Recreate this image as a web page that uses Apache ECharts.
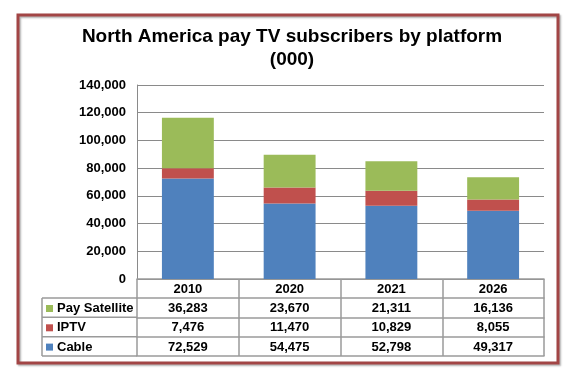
<!DOCTYPE html>
<html>
<head>
<meta charset="utf-8">
<script src="https://cdn.jsdelivr.net/npm/echarts@6/dist/echarts.min.js"></script>
<style>
html,body{margin:0;padding:0;background:#fff;}
#c{width:584px;height:377px;}
</style>
</head>
<body>
<div id="c"></div>
<script>
// ---- data ----
const categories = ['2010', '2020', '2021', '2026'];
const cable = [72529, 54475, 52798, 49317];
const iptv = [7476, 11470, 10829, 8055];
const satellite = [36283, 23670, 21311, 16136];
const seriesNames = ['Pay Satellite', 'IPTV', 'Cable'];
const yMin = 0, yMax = 140000, yInterval = 20000;

// ---- style ----
const FONT = "'Liberation Sans', Arial, sans-serif";
const colors = { 'Cable': '#4F81BD', 'IPTV': '#C0504D', 'Pay Satellite': '#9BBB59' };
const tableLine = '#9a9a9a';
const fmt = v => Number(v).toLocaleString('en-US');

const gridLeft = 137, gridTop = 85, gridRightX = 544, gridBottomY = 279;
const rowOffsets = [19, 38.3, 57.7, 77];

function rowAxis(offset, values) {
  return {
    type: 'category', data: categories, position: 'bottom', offset: offset,
    axisLine: { show: true, lineStyle: { color: tableLine, width: 1.5 } },
    axisTick: { show: false },
    splitLine: { show: false },
    axisLabel: {
      show: !!values, interval: 0, margin: 3,
      formatter: (v, i) => values ? fmt(values[i]) : '',
      color: '#000', fontFamily: FONT, fontWeight: 'bold', fontSize: 13, lineHeight: 15
    }
  };
}

const chart = echarts.init(document.getElementById('c'), null, { renderer: 'canvas' });
const tableBottom = gridBottomY + rowOffsets[3];
const legLeft = 42;

const hLines = rowOffsets.map(o => ({
  type: 'line', silent: true,
  shape: { x1: legLeft, y1: gridBottomY + o, x2: gridLeft, y2: gridBottomY + o },
  style: { stroke: tableLine, lineWidth: 1.5 }
}));

chart.setOption({
  backgroundColor: '#fff',
  animation: false,
  title: {
    text: 'North America pay TV subscribers by platform\n(000)',
    left: 'center', top: 21,
    textStyle: { fontFamily: FONT, fontWeight: 'bold', fontSize: 19, lineHeight: 22.5, color: '#000' }
  },
  legend: {
    data: seriesNames,
    orient: 'vertical', left: 46, top: 301, padding: 0,
    itemWidth: 7, itemHeight: 7, itemGap: 4.3, icon: 'rect',
    textStyle: { fontFamily: FONT, fontWeight: 'bold', fontSize: 13, lineHeight: 15, color: '#000', padding: [0, 0, 0, -1] },
    selectedMode: false
  },
  grid: { left: gridLeft, top: gridTop, width: gridRightX - gridLeft, height: gridBottomY - gridTop, containLabel: false },
  xAxis: [
    {
      type: 'category', data: categories, position: 'bottom',
      axisLine: { show: true, lineStyle: { color: tableLine, width: 1.5 } },
      axisTick: { show: true, alignWithLabel: false, length: rowOffsets[3], lineStyle: { color: tableLine, width: 1.5 } },
      axisLabel: { interval: 0, margin: 3, color: '#000', fontFamily: FONT, fontWeight: 'bold', fontSize: 13, lineHeight: 15 }
    },
    rowAxis(rowOffsets[0], satellite),
    rowAxis(rowOffsets[1], iptv),
    rowAxis(rowOffsets[2], cable),
    rowAxis(rowOffsets[3], null)
  ],
  yAxis: {
    type: 'value', min: yMin, max: yMax, interval: yInterval,
    axisLine: { show: true, lineStyle: { color: '#8a8a8a', width: 1 } },
    axisTick: { show: false },
    splitLine: { show: true, lineStyle: { color: '#8a8a8a', width: 1 } },
    axisLabel: { margin: 11, color: '#000', fontFamily: FONT, fontWeight: 'bold', fontSize: 13, formatter: v => fmt(v) }
  },
  series: [
    { name: 'Cable', type: 'bar', stack: 't', data: cable, barWidth: '51%', itemStyle: { color: colors['Cable'] } },
    { name: 'IPTV', type: 'bar', stack: 't', data: iptv, barWidth: '51%', itemStyle: { color: colors['IPTV'] } },
    { name: 'Pay Satellite', type: 'bar', stack: 't', data: satellite, barWidth: '51%', itemStyle: { color: colors['Pay Satellite'] } }
  ],
  graphic: [
    {
      type: 'rect', silent: true, z: 100,
      shape: { x: 18, y: 15, width: 540, height: 348 },
      style: { fill: 'none', stroke: '#a24545', lineWidth: 3, shadowColor: 'rgba(0,0,0,0.3)', shadowBlur: 2, shadowOffsetX: 1.5, shadowOffsetY: 1.5 }
    },
    {
      type: 'line', silent: true,
      shape: { x1: legLeft, y1: gridBottomY + rowOffsets[0], x2: legLeft, y2: tableBottom },
      style: { stroke: tableLine, lineWidth: 1.5 }
    }
  ].concat(hLines)
});
</script>
</body>
</html>
